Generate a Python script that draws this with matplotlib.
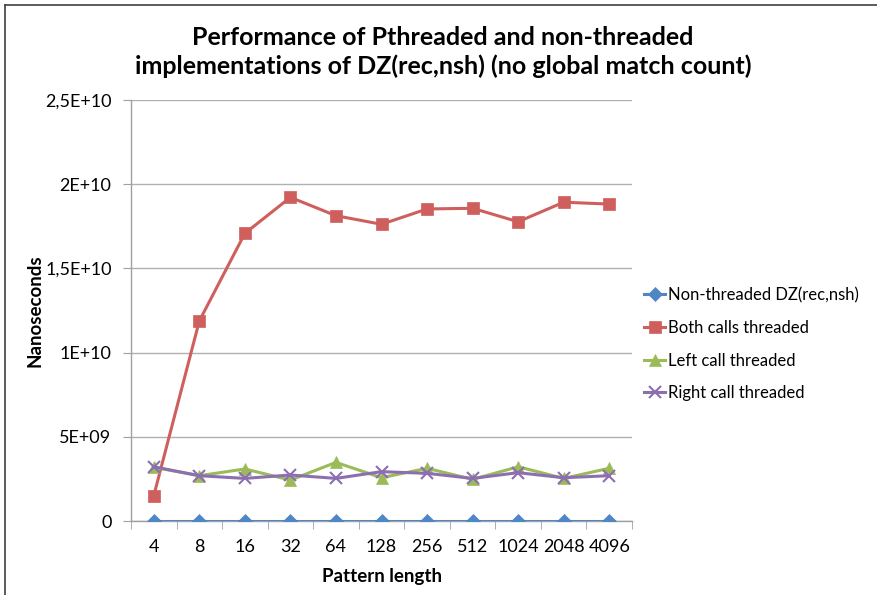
import numpy as np
import matplotlib.pyplot as plt
import matplotlib as mpl
from matplotlib.lines import Line2D
from matplotlib.ticker import FixedLocator

mpl.rc("font", family=["Lato", "DejaVu Sans"], size=11)
mpl.rc("figure", facecolor="w")

# ----- data -----

pattern_lengths = ["4", "8", "16", "32", "64", "128", "256", "512", "1024", "2048", "4096"]

non_threaded = [2.0e7, 2.0e7, 2.0e7, 2.0e7, 2.0e7, 2.0e7, 2.0e7, 2.0e7, 2.0e7, 2.0e7, 2.0e7]
both_threaded = [1.50e9, 1.188e10, 1.708e10, 1.922e10, 1.813e10, 1.762e10,
                 1.853e10, 1.857e10, 1.777e10, 1.893e10, 1.882e10]
left_threaded = [3.19e9, 2.69e9, 3.09e9, 2.43e9, 3.48e9, 2.57e9,
                 3.13e9, 2.47e9, 3.22e9, 2.53e9, 3.13e9]
right_threaded = [3.22e9, 2.69e9, 2.53e9, 2.73e9, 2.53e9, 2.93e9,
                  2.83e9, 2.53e9, 2.87e9, 2.57e9, 2.69e9]

series = [
    ("Non-threaded DZ(rec,nsh)", non_threaded, "#4F86C6", "D", 7),
    ("Both calls threaded", both_threaded, "#CF5F5C", "s", 9),
    ("Left call threaded", left_threaded, "#9BBB59", "^", 9),
    ("Right call threaded", right_threaded, "#8C6FB0", "x", 8),
]

yticks = [0, 5e9, 1e10, 1.5e10, 2e10, 2.5e10]
ytick_labels = ["0", "5E+09", "1E+10", "1,5E+10", "2E+10", "2,5E+10"]

# ----- plot -----

fig = plt.figure(figsize=(8.77, 5.95), dpi=100)
ax = fig.add_axes([131 / 877, 1 - 521 / 595, 501 / 877, 421 / 595])

x = np.arange(len(pattern_lengths))
handles = []
for label, vals, color, marker, ms in series:
    line, = ax.plot(x, vals, color=color, linewidth=2.2, marker=marker,
                    markersize=ms, markeredgewidth=1.5 if marker == "x" else 0.5,
                    markeredgecolor=color, label=label, zorder=3)
    handles.append(line)

ax.set_xlim(-0.5, len(pattern_lengths) - 0.5)
ax.set_ylim(0, 2.5e10)
ax.set_xticks(x)
ax.set_xticklabels(pattern_lengths, fontsize=13)
ax.xaxis.set_minor_locator(FixedLocator(np.arange(-0.5, len(pattern_lengths), 1.0)))
ax.tick_params(axis="x", which="major", length=0, pad=13)
ax.tick_params(axis="x", which="minor", length=6, color="#A0A0A0", direction="out")
ax.set_yticks(yticks)
ax.set_yticklabels(ytick_labels, fontsize=13)
ax.tick_params(axis="y", length=6, color="#A0A0A0", direction="out", pad=8)

ax.yaxis.grid(True, color="#B0B0B0", linewidth=1)
ax.set_axisbelow(True)
for side in ["top", "right"]:
    ax.spines[side].set_visible(False)
for side in ["left", "bottom"]:
    ax.spines[side].set_color("#A0A0A0")
    ax.spines[side].set_linewidth(1)

ax.set_xlabel("Pattern length", fontweight="bold", fontsize=13.5, labelpad=9)
ax.set_ylabel("Nanoseconds", fontweight="bold", fontsize=13.5, labelpad=1)

fig.text(0.505, 1 - 52 / 595,
         "Performance of Pthreaded and non-threaded\nimplementations of DZ(rec,nsh) (no global match count)",
         ha="center", va="center", fontsize=18, fontweight="bold", linespacing=1.3)

ax.legend(handles=handles, loc="center left", bbox_to_anchor=(1.0, 0.42),
          frameon=False, fontsize=12, handlelength=1.3, handletextpad=0.15,
          labelspacing=1.0, borderaxespad=0.3)

# chart frame edges
fig.add_artist(Line2D([5 / 877, 5 / 877], [0, 1 - 5 / 595], color="#404040", linewidth=1.2))
fig.add_artist(Line2D([5 / 877, 1], [1 - 5 / 595, 1 - 5 / 595], color="#404040", linewidth=1.2))

plt.savefig("out.png", dpi=100)
plt.close(fig)
